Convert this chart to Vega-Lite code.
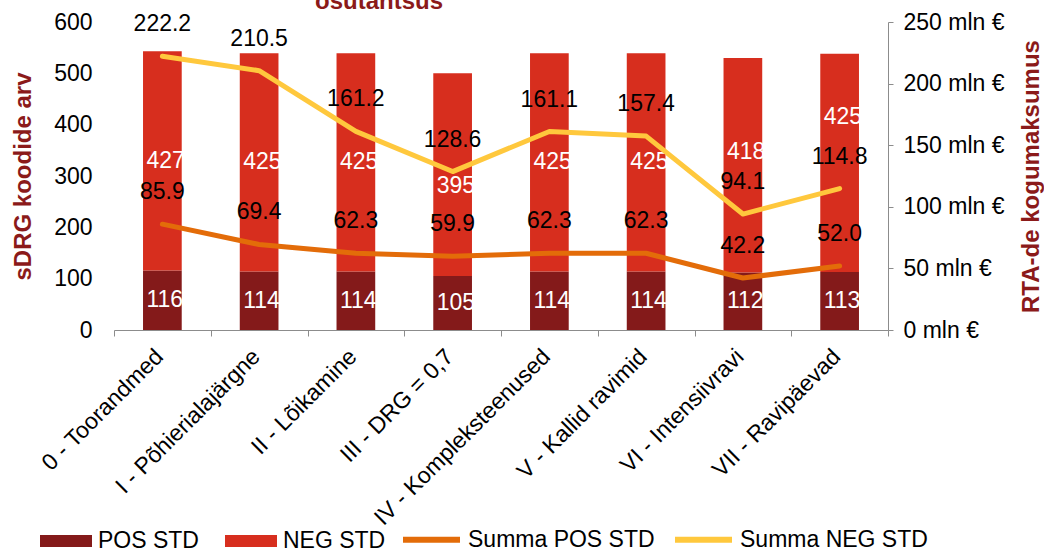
{
  "$schema": "https://vega.github.io/schema/vega-lite/v6.json",
  "autosize": {"type": "none"},
  "padding": {"left": 114, "top": 22, "right": 156, "bottom": 221},
  "width": 774,
  "height": 308,
  "background": "white",
  "config": {
    "font": "Liberation Sans",
    "view": {"stroke": null},
    "axis": {"labelFont": "Liberation Sans", "titleFont": "Liberation Sans", "grid": false, "labelColor": "black"},
    "legend": {"labelFont": "Liberation Sans"},
    "title": {"offset": 0}
  },
  "title": {
    "text": "osutantsus",
    "anchor": "start",
    "frame": "group",
    "dx": 201,
    "dy": 26,
    "baseline": "alphabetic",
    "fontSize": 24,
    "fontWeight": "bold",
    "color": "#8B1A1A",
    "font": "Liberation Sans"
  },
  "layer": [
    {
      "data": {
        "values": [
          {"cat": "0 - Toorandmed", "series": "POS STD", "n": 116, "ord": 1},
          {"cat": "0 - Toorandmed", "series": "NEG STD", "n": 427, "ord": 2},
          {"cat": "I - Põhierialajärgne", "series": "POS STD", "n": 114, "ord": 1},
          {"cat": "I - Põhierialajärgne", "series": "NEG STD", "n": 425, "ord": 2},
          {"cat": "II - Lõikamine", "series": "POS STD", "n": 114, "ord": 1},
          {"cat": "II - Lõikamine", "series": "NEG STD", "n": 425, "ord": 2},
          {"cat": "III - DRG = 0,7", "series": "POS STD", "n": 105, "ord": 1},
          {"cat": "III - DRG = 0,7", "series": "NEG STD", "n": 395, "ord": 2},
          {"cat": "IV - Kompleksteenused", "series": "POS STD", "n": 114, "ord": 1},
          {"cat": "IV - Kompleksteenused", "series": "NEG STD", "n": 425, "ord": 2},
          {"cat": "V - Kallid ravimid", "series": "POS STD", "n": 114, "ord": 1},
          {"cat": "V - Kallid ravimid", "series": "NEG STD", "n": 425, "ord": 2},
          {"cat": "VI - Intensiivravi", "series": "POS STD", "n": 112, "ord": 1},
          {"cat": "VI - Intensiivravi", "series": "NEG STD", "n": 418, "ord": 2},
          {"cat": "VII - Ravipäevad", "series": "POS STD", "n": 113, "ord": 1},
          {"cat": "VII - Ravipäevad", "series": "NEG STD", "n": 425, "ord": 2}
        ]
      },
      "encoding": {
        "x": {
          "field": "cat", "type": "nominal", "sort": null,
          "scale": {"paddingInner": 0, "paddingOuter": 0},
          "axis": {
            "title": null, "labelAngle": -45, "labelFontSize": 23, "labelPadding": 9, "labelOffset": -11,
            "domainColor": "#8c8c8c", "tickColor": "#8c8c8c", "tickSize": 6,
            "tickBand": "extent", "labelLimit": 400
          }
        },
        "y": {
          "field": "n", "type": "quantitative", "stack": "zero",
          "scale": {"domain": [0, 600], "nice": false},
          "axis": {
            "title": "sDRG koodide arv", "orient": "left",
            "values": [0, 100, 200, 300, 400, 500, 600],
            "domain": false, "ticks": false, "labelPadding": 22, "labelFontSize": 23,
            "titleFontSize": 24, "titleFontWeight": "bold", "titleColor": "#8B1A1A",
            "titleX": -91, "titleY": 154, "titleBaseline": "middle", "titleAngle": 270
          }
        },
        "order": {"field": "ord", "type": "quantitative"}
      },
      "layer": [
        {
          "mark": {"type": "bar", "width": {"band": 0.4}},
          "encoding": {
            "fill": {
              "field": "series", "type": "nominal",
              "scale": {"domain": ["POS STD", "NEG STD"], "range": ["#841A1A", "#D72E1E"]},
              "legend": {
                "title": null, "orient": "none", "direction": "horizontal",
                "legendX": -74, "legendY": 493,
                "symbolType": "M-1,-0.23H1V0.23H-1Z", "symbolSize": 2704,
                "symbolStrokeWidth": 0, "labelFontSize": 23, "labelOffset": 6,
                "columnPadding": 26, "labelColor": "black", "labelLimit": 300
              }
            }
          }
        },
        {
          "mark": {"type": "text", "align": "left", "baseline": "middle", "dx": -16, "fontSize": 23, "color": "white"},
          "encoding": {
            "y": {"field": "n", "type": "quantitative", "stack": "zero", "bandPosition": 0.5},
            "text": {
              "condition": {"test": "datum.series == 'POS STD' || (datum.cat != 'III - DRG = 0,7' && datum.cat != 'VI - Intensiivravi' && datum.cat != 'VII - Ravipäevad')", "field": "n", "type": "quantitative"},
              "value": ""
            }
          }
        },
        {
          "mark": {"type": "text", "align": "left", "baseline": "middle", "dx": -16, "dy": 11, "fontSize": 23, "color": "white"},
          "encoding": {
            "y": {"field": "n", "type": "quantitative", "stack": "zero", "bandPosition": 0.5},
            "text": {
              "condition": {"test": "datum.series == 'NEG STD' && datum.cat == 'III - DRG = 0,7'", "field": "n", "type": "quantitative"},
              "value": ""
            }
          }
        },
        {
          "mark": {"type": "text", "align": "left", "baseline": "middle", "dx": -16, "dy": -13, "fontSize": 23, "color": "white"},
          "encoding": {
            "y": {"field": "n", "type": "quantitative", "stack": "zero", "bandPosition": 0.5},
            "text": {
              "condition": {"test": "datum.series == 'NEG STD' && datum.cat == 'VI - Intensiivravi'", "field": "n", "type": "quantitative"},
              "value": ""
            }
          }
        },
        {
          "mark": {"type": "text", "align": "left", "baseline": "middle", "dx": -16, "dy": -46, "fontSize": 23, "color": "white"},
          "encoding": {
            "y": {"field": "n", "type": "quantitative", "stack": "zero", "bandPosition": 0.5},
            "text": {
              "condition": {"test": "datum.series == 'NEG STD' && datum.cat == 'VII - Ravipäevad'", "field": "n", "type": "quantitative"},
              "value": ""
            }
          }
        }
      ]
    },
    {
      "data": {
        "values": [
          {"cat": "0 - Toorandmed", "series": "Summa POS STD", "mln": 85.9},
          {"cat": "I - Põhierialajärgne", "series": "Summa POS STD", "mln": 69.4},
          {"cat": "II - Lõikamine", "series": "Summa POS STD", "mln": 62.3},
          {"cat": "III - DRG = 0,7", "series": "Summa POS STD", "mln": 59.9},
          {"cat": "IV - Kompleksteenused", "series": "Summa POS STD", "mln": 62.3},
          {"cat": "V - Kallid ravimid", "series": "Summa POS STD", "mln": 62.3},
          {"cat": "VI - Intensiivravi", "series": "Summa POS STD", "mln": 42.2},
          {"cat": "VII - Ravipäevad", "series": "Summa POS STD", "mln": 52.0},
          {"cat": "0 - Toorandmed", "series": "Summa NEG STD", "mln": 222.2},
          {"cat": "I - Põhierialajärgne", "series": "Summa NEG STD", "mln": 210.5},
          {"cat": "II - Lõikamine", "series": "Summa NEG STD", "mln": 161.2},
          {"cat": "III - DRG = 0,7", "series": "Summa NEG STD", "mln": 128.6},
          {"cat": "IV - Kompleksteenused", "series": "Summa NEG STD", "mln": 161.1},
          {"cat": "V - Kallid ravimid", "series": "Summa NEG STD", "mln": 157.4},
          {"cat": "VI - Intensiivravi", "series": "Summa NEG STD", "mln": 94.1},
          {"cat": "VII - Ravipäevad", "series": "Summa NEG STD", "mln": 114.8}
        ]
      },
      "encoding": {
        "x": {"field": "cat", "type": "nominal", "sort": null},
        "y": {
          "field": "mln", "type": "quantitative",
          "scale": {"domain": [0, 250], "nice": false},
          "axis": {
            "title": "RTA-de kogumaksumus", "orient": "right",
            "values": [0, 50, 100, 150, 200, 250],
            "labelExpr": "datum.value + ' mln €'",
            "domainColor": "#8c8c8c", "tickColor": "#8c8c8c", "tickSize": 5,
            "labelPadding": 10, "labelFontSize": 23,
            "titleFontSize": 24, "titleFontWeight": "bold", "titleColor": "#8B1A1A",
            "titleX": 143, "titleY": 154, "titleBaseline": "middle", "titleAngle": 270
          }
        }
      },
      "layer": [
        {
          "mark": {"type": "line", "strokeWidth": 5, "strokeCap": "round", "strokeJoin": "round"},
          "encoding": {
            "stroke": {
              "field": "series", "type": "nominal",
              "scale": {"domain": ["Summa POS STD", "Summa NEG STD"], "range": ["#E36C09", "#FFC83D"]},
              "legend": {
                "title": null, "orient": "none", "direction": "horizontal",
                "legendX": 286, "legendY": 486,
                "symbolType": "stroke", "symbolSize": 3249, "symbolStrokeWidth": 6,
                "labelFontSize": 23, "labelOffset": 5, "columnPadding": 8, "labelColor": "black", "labelLimit": 300
              }
            },
            "detail": {"field": "series", "type": "nominal"}
          }
        },
        {
          "mark": {"type": "text", "baseline": "middle", "align": "center", "dy": -32, "fontSize": 23, "color": "black"},
          "encoding": {
            "text": {"field": "mln", "type": "quantitative", "format": ".1f"}
          }
        }
      ]
    }
  ],
  "resolve": {"scale": {"y": "independent"}}
}
